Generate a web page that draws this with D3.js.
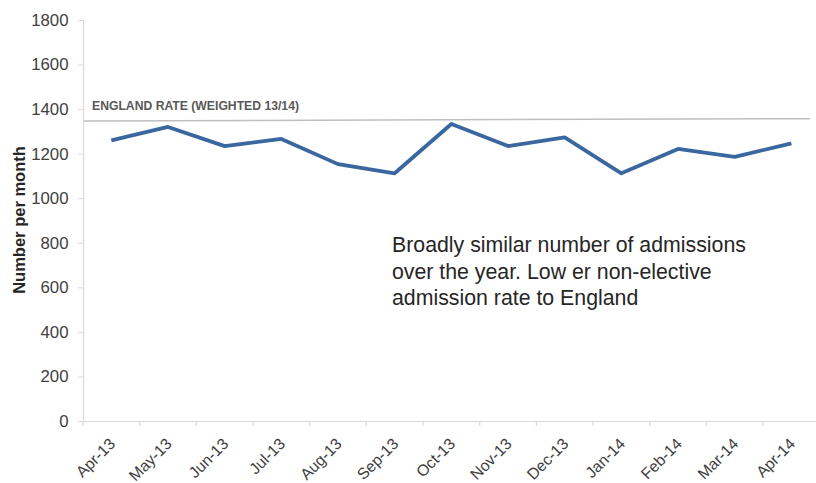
<!DOCTYPE html>
<html><head><meta charset="utf-8">
<script src="https://cdn.jsdelivr.net/npm/d3@7"></script>
<style>
html,body{margin:0;padding:0;background:#fff;overflow:hidden}
svg{display:block;font-family:"Liberation Sans",Arial,sans-serif}
</style></head><body>
<script>
const categories = ["Apr-13","May-13","Jun-13","Jul-13","Aug-13","Sep-13","Oct-13","Nov-13","Dec-13","Jan-14","Feb-14","Mar-14","Apr-14"];
const admissions = [1260,1320,1234,1266,1153,1112,1333,1234,1273,1112,1221,1186,1246];
const englandRate = [1347,1357];
const yTicks = [0,200,400,600,800,1000,1200,1400,1600,1800];
const refLabel = "ENGLAND RATE (WEIGHTED 13/14)";
const yTitle = "Number per month";
const noteLines = ["Broadly similar number of admissions","over the year. Low er non-elective","admission rate to England"];

const W = 816, H = 483;
const mLeft = 83, mTop = 20, mBottom = 421, mRight = 819.7;
const svg = d3.select("body").append("svg").attr("width", W).attr("height", H);

const x = d3.scaleBand().domain(categories).range([mLeft, mRight]);
const y = d3.scaleLinear().domain([0,1800]).range([mBottom, mTop]);

// y axis
const ya = svg.append("g").attr("transform", `translate(${mLeft},0)`)
  .call(d3.axisLeft(y).tickValues(yTicks).tickFormat(d3.format("d")).tickSize(5).tickPadding(9.5));
ya.select(".domain").attr("stroke", "#d9d9d9").attr("stroke-width", 1.2);
ya.selectAll(".tick line").attr("stroke", "#d9d9d9");
ya.selectAll(".tick text").attr("fill", "#404040").style("font-size", "16.8px")
  .style("font-family", '"Liberation Sans",Arial,sans-serif');

// x axis
const xa = svg.append("g").attr("transform", `translate(0,${mBottom})`)
  .call(d3.axisBottom(x).tickSize(0).tickFormat(d => d));
xa.select(".domain").attr("stroke", "#d9d9d9").attr("stroke-width", 1.2);
xa.selectAll(".tick text")
  .attr("fill", "#404040").style("font-size", "15.8px")
  .style("font-family", '"Liberation Sans",Arial,sans-serif')
  .attr("text-anchor", "end")
  .attr("transform", "translate(-3,16) rotate(-45)")
  .attr("dy", "0.7em").attr("y", 0).attr("x", 0);
// boundary ticks
const bounds = categories.map(c => x(c)).concat([x(categories[categories.length-1]) + x.bandwidth()]);
svg.append("g").selectAll("line").data(bounds).join("line")
  .attr("x1", d => d).attr("x2", d => d).attr("y1", mBottom).attr("y2", mBottom + 5)
  .attr("stroke", "#d9d9d9").attr("stroke-width", 1.2);

// England rate line
const refX = [mLeft + 1, 810];
svg.append("line")
  .attr("x1", refX[0]).attr("x2", refX[1])
  .attr("y1", y(englandRate[0])).attr("y2", y(englandRate[1]))
  .attr("stroke", "#bfbfbf").attr("stroke-width", 1.5);
svg.append("text").attr("x", 92).attr("y", y(englandRate[0]) - 11)
  .attr("fill", "#595959").style("font-size", "12.2px").style("font-weight", "bold")
  .text(refLabel);

// series line
const line = d3.line().x((d,i) => x(categories[i]) + x.bandwidth()/2).y(d => y(d));
svg.append("path").datum(admissions).attr("d", line)
  .attr("fill", "none").attr("stroke", "#3a679f").attr("stroke-width", 3.8)
  .attr("stroke-linejoin", "round");

// y title
svg.append("text").attr("transform", `translate(25,220) rotate(-90)`)
  .attr("text-anchor", "middle").attr("fill", "#262626")
  .style("font-size", "16.5px").style("font-weight", "bold").text(yTitle);

// annotation
svg.append("g").selectAll("text").data(noteLines).join("text")
  .attr("x", 392).attr("y", (d,i) => 252 + i*26.5)
  .attr("fill", "#262626").style("font-size", "21.3px").text(d => d);
</script>
</body></html>
